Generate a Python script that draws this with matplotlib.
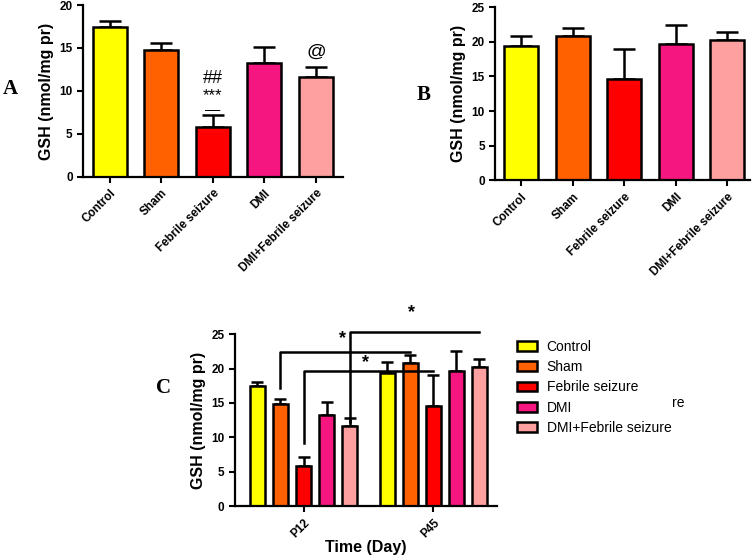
import numpy as np
import matplotlib.pyplot as plt

plt.rcParams['font.family'] = ['Liberation Sans', 'DejaVu Sans']

#data
groups = ['Control', 'Sham', 'Febrile seizure', 'DMI', 'DMI+Febrile seizure']
colors = ['#FFFF00', '#FF6000', '#FF0000', '#F5167F', '#FFA0A0']
p12_mean = [17.4, 14.8, 5.8, 13.2, 11.6]
p12_err = [0.7, 0.8, 1.4, 1.9, 1.2]
p45_mean = [19.4, 20.8, 14.6, 19.7, 20.3]
p45_err = [1.5, 1.2, 4.4, 2.8, 1.1]
days = ['P12', 'P45']

# significance brackets in panel C: (bar index, bottom y, top y, star y)
brackets = [(1, 17.2, 22.4, 24.4), (2, 9.2, 19.6, 20.9), (4, 12.2, 25.3, 28.2)]

fig = plt.figure(figsize=(7.55, 5.58), dpi=100)

def style_axes(ax):
    for s in ['top', 'right']:
        ax.spines[s].set_visible(False)
    for s in ['left', 'bottom']:
        ax.spines[s].set_linewidth(1.6)
    ax.tick_params(direction='out', width=1.5, length=4, labelsize=8.5)
    for lab in ax.get_yticklabels():
        lab.set_fontweight('bold')
    ax.set_ylabel('GSH (nmol/mg pr)', fontsize=11.5, fontweight='bold', labelpad=4)

def bar_panel(ax, means, errs, ylim, yticks, xlim):
    x = np.arange(len(groups))
    ax.bar(x, means, width=0.66, color=colors, edgecolor='black', linewidth=1.8, zorder=2)
    ax.errorbar(x, means, yerr=[np.zeros(len(errs)), errs], fmt='none', ecolor='black',
                elinewidth=1.8, capsize=8, capthick=1.8, zorder=1)
    ax.set_xlim(*xlim)
    ax.set_ylim(*ylim)
    ax.set_yticks(yticks)
    ax.set_xticks(x)
    ax.set_xticklabels(groups, rotation=45, ha='right', rotation_mode='anchor',
                       fontsize=10, fontweight='bold')
    style_axes(ax)
    return x

# panel A
axA = fig.add_axes([0.110, 0.683, 0.344, 0.308])
xa = bar_panel(axA, p12_mean, p12_err, (0, 20), [0, 5, 10, 15, 20], (-0.52, 4.52))
axA.text(xa[2], p12_mean[2] + p12_err[2] + 0.55, '\u2014', ha='center', va='center', fontsize=11)
axA.text(xa[2], p12_mean[2] + p12_err[2] + 2.2, '***', ha='center', va='center', fontsize=12)
axA.text(xa[2], p12_mean[2] + p12_err[2] + 4.3, '##', ha='center', va='center', fontsize=13)
axA.text(xa[4], p12_mean[4] + p12_err[4] + 1.7, '@', ha='center', va='center', fontsize=14)
fig.text(0.004, 0.84, 'A', fontsize=15, fontweight='bold', family='Liberation Serif', va='center')

# panel B
axB = fig.add_axes([0.656, 0.677, 0.337, 0.310])
bar_panel(axB, p45_mean, p45_err, (0, 25), [0, 5, 10, 15, 20, 25], (-0.5, 4.44))
fig.text(0.552, 0.83, 'B', fontsize=15, fontweight='bold', family='Liberation Serif', va='center')

# panel C
axC = fig.add_axes([0.311, 0.093, 0.347, 0.308])
step, width = 0.178, 0.116
offs = (np.arange(len(groups)) - 2) * step
for g, (means, errs) in enumerate([(p12_mean, p12_err), (p45_mean, p45_err)]):
    xs = g + offs
    axC.bar(xs, means, width=width, color=colors, edgecolor='black', linewidth=1.8, zorder=2,
            label=groups if g == 0 else None)
    axC.errorbar(xs, means, yerr=[np.zeros(len(errs)), errs], fmt='none', ecolor='black',
                 elinewidth=1.8, capsize=4, capthick=1.8, zorder=1)
for i, y0, y1, ys in brackets:
    xl, xr = offs[i], 1 + offs[i]
    axC.plot([xl, xl, xr], [y0, y1, y1], color='black', lw=1.8, clip_on=False, zorder=3)
    axC.text((xl + xr) / 2 - 0.02, ys, '*', ha='center', va='center', fontsize=13,
             fontweight='bold', clip_on=False)
axC.set_xlim(-0.53, 1.49)
axC.set_ylim(0, 25)
axC.set_yticks([0, 5, 10, 15, 20, 25])
axC.set_xticks([0, 1])
axC.set_xticklabels(days, rotation=45, ha='right', rotation_mode='anchor', fontsize=10, fontweight='bold')
style_axes(axC)
axC.set_xlabel('Time (Day)', fontsize=11.5, fontweight='bold', labelpad=0)
fig.text(0.207, 0.305, 'C', fontsize=15, fontweight='bold', family='Liberation Serif', va='center')

handles, labels = axC.get_legend_handles_labels()
leg = fig.legend(handles, labels, loc='upper left', bbox_to_anchor=(0.678, 0.401),
                 frameon=False, fontsize=10, handlelength=1.4, handleheight=0.7,
                 labelspacing=0.45, handletextpad=0.7, borderaxespad=0)
fig.text(0.89, 0.277, 're', fontsize=10, va='center')

plt.savefig('out.png', dpi=100)
